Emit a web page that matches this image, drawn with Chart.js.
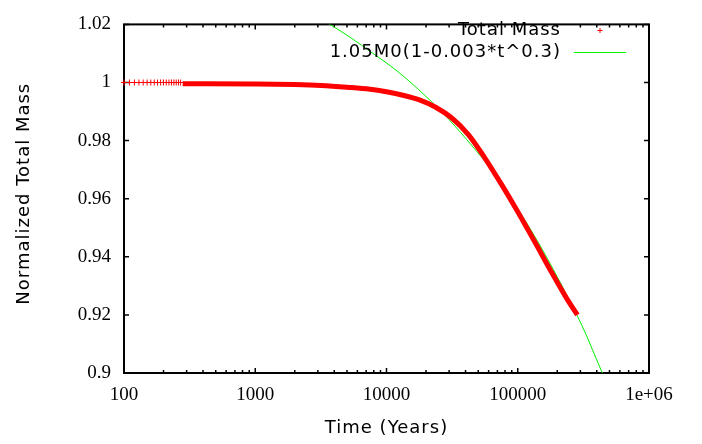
<!DOCTYPE html>
<html>
<head>
<meta charset="utf-8">
<script src="https://cdn.jsdelivr.net/npm/chart.js@4.4.0/dist/chart.umd.min.js"></script>
<style>
  body { margin: 0; background: #fff; }
  #wrap { width: 702px; height: 444px; }
</style>
</head>
<body>
<div id="wrap"><canvas id="massChart" width="702" height="444"></canvas></div>
<script>
// values (time in years, mass normalized to M0)
const earlyYears = [100, 110, 120, 130, 140, 150, 160, 170, 180, 190, 200, 210, 220, 230, 240, 250, 260, 270];
const earlyMass  = [1.0, 1.0, 1.0, 1.0, 1.0, 1.0, 1.0, 1.0, 1.0, 1.0, 1.0, 1.0, 1.0, 1.0, 1.0, 1.0, 1.0, 1.0];

const bandYears = [280, 1000, 2000, 3160, 5000, 7500, 10000, 13340, 17780, 23700, 31600, 42200, 56200, 75000, 100000, 133400, 177800, 237100, 284500];
const bandMass  = [0.9996, 0.9995, 0.9993, 0.9990, 0.9984, 0.9977, 0.9968, 0.9956, 0.9940, 0.9915, 0.9877, 0.9820, 0.9740, 0.9650, 0.9555, 0.9455, 0.9353, 0.9255, 0.9200];

const fitYears = [3400, 5000, 7900, 12000, 20000, 30000, 45000, 61000, 80000, 120000, 170000, 250000, 294000, 331000, 371000, 437000, 450000];
const fitMass  = [1.0210, 1.0163, 1.0100, 1.0040, 0.9952, 0.9872, 0.9781, 0.9708, 0.9631, 0.9508, 0.9390, 0.9247, 0.9183, 0.9133, 0.9080, 0.9004, 0.8990];

const seriesNames = ['Total Mass', '1.05M0(1-0.003*t^0.3)'];

const xTicks = [100, 1000, 10000, 100000, 1000000];
const xTickLabels = ['100', '1000', '10000', '100000', '1e+06'];
const yTicks = [0.9, 0.92, 0.94, 0.96, 0.98, 1, 1.02];
const yTickLabels = ['0.9', '0.92', '0.94', '0.96', '0.98', '1', '1.02'];

const xTitle = 'Time (Years)';
const yTitle = 'Normalized Total Mass';

const toPoints = (xs, ys) => xs.map((x, i) => ({ x: x, y: ys[i] }));

// gnuplot style frame with inward ticks, axis titles and the key in the top right corner
const framePlugin = {
    id: 'frame',
    beforeDatasetsDraw(chart) {
        const { ctx, chartArea: a, scales: { x, y } } = chart;
        ctx.save();
        ctx.strokeStyle = '#000';
        ctx.lineWidth = 1.5;
        ctx.beginPath();
        for (let i = 0; i < xTicks.length; i++) {
            const px = x.getPixelForValue(xTicks[i]);
            ctx.moveTo(px, a.bottom); ctx.lineTo(px, a.bottom - 5);
            ctx.moveTo(px, a.top); ctx.lineTo(px, a.top + 5);
            if (i < xTicks.length - 1) {
                for (let m = 2; m <= 9; m++) {
                    const mx = x.getPixelForValue(xTicks[i] * m);
                    ctx.moveTo(mx, a.bottom); ctx.lineTo(mx, a.bottom - 3);
                    ctx.moveTo(mx, a.top); ctx.lineTo(mx, a.top + 3);
                }
            }
        }
        yTicks.forEach(v => {
            const py = y.getPixelForValue(v);
            ctx.moveTo(a.left, py); ctx.lineTo(a.left + 5, py);
            ctx.moveTo(a.right, py); ctx.lineTo(a.right - 5, py);
        });
        ctx.stroke();
        ctx.lineWidth = 2;
        ctx.strokeRect(a.left, a.top, a.right - a.left, a.bottom - a.top);

        // axis titles
        ctx.fillStyle = '#000';
        ctx.font = '18px "DejaVu Sans"';
        ctx.letterSpacing = '1px';
        ctx.textAlign = 'center';
        ctx.textBaseline = 'middle';
        ctx.fillText(xTitle, (a.left + a.right) / 2, 428);
        ctx.translate(24, (a.top + a.bottom) / 2 - 5);
        ctx.rotate(-Math.PI / 2);
        ctx.fillText(yTitle, 0, 0);
        ctx.restore();
    },
    afterDatasetsDraw(chart) {
        const ctx = chart.ctx;
        ctx.save();
        ctx.fillStyle = '#000';
        ctx.font = '18px "DejaVu Sans"';
        ctx.letterSpacing = '1px';
        ctx.textAlign = 'right';
        ctx.textBaseline = 'middle';
        ctx.fillText(seriesNames[0], 561, 30);
        ctx.fillText(seriesNames[1], 561, 52);
        ctx.strokeStyle = '#ff0000';
        ctx.lineWidth = 1;
        ctx.beginPath();
        ctx.moveTo(597.5, 30.5); ctx.lineTo(602.5, 30.5);
        ctx.moveTo(600, 28); ctx.lineTo(600, 33);
        ctx.stroke();
        ctx.strokeStyle = '#00ee00';
        ctx.beginPath();
        ctx.moveTo(574, 52.5); ctx.lineTo(626, 52.5);
        ctx.stroke();
        ctx.restore();
    }
};

const ctx = document.getElementById('massChart').getContext('2d');
new Chart(ctx, {
    type: 'line',
    data: {
        datasets: [
            {
                label: seriesNames[0],
                data: toPoints(earlyYears, earlyMass),
                showLine: false,
                pointStyle: 'cross',
                pointRadius: 3,
                pointBorderWidth: 1,
                borderColor: '#ff0000',
                backgroundColor: '#ff0000',
                clip: 5
            },
            {
                label: seriesNames[0],
                data: toPoints(bandYears, bandMass),
                borderColor: '#ff0000',
                borderWidth: 5,
                pointRadius: 0,
                cubicInterpolationMode: 'monotone'
            },
            {
                label: seriesNames[1],
                data: toPoints(fitYears, fitMass),
                borderColor: '#00ee00',
                borderWidth: 1,
                pointRadius: 0,
                cubicInterpolationMode: 'monotone'
            }
        ]
    },
    options: {
        responsive: false,
        animation: false,
        layout: { padding: { left: 0, right: 53, top: 14, bottom: 0 } },
        plugins: {
            legend: { display: false },
            tooltip: { enabled: false }
        },
        scales: {
            x: {
                type: 'logarithmic',
                min: 100,
                max: 1000000,
                grid: { display: false, drawTicks: false },
                border: { display: false },
                afterBuildTicks: s => { s.ticks = xTicks.map(v => ({ value: v })); },
                afterFit: s => { s.height = 71; },
                ticks: {
                    autoSkip: false,
                    maxRotation: 0,
                    padding: 11,
                    color: '#000',
                    font: { family: '"Liberation Serif"', size: 19 },
                    callback: (v, i) => xTickLabels[i]
                }
            },
            y: {
                min: 0.9,
                max: 1.02,
                grid: { display: false, drawTicks: false },
                border: { display: false },
                afterBuildTicks: s => { s.ticks = yTicks.map(v => ({ value: v })); },
                afterFit: s => { s.width = 124; },
                ticks: {
                    padding: 13,
                    color: '#000',
                    font: { family: '"Liberation Serif"', size: 19 },
                    callback: (v, i) => yTickLabels[i]
                }
            }
        }
    },
    plugins: [framePlugin]
});
</script>
</body>
</html>
